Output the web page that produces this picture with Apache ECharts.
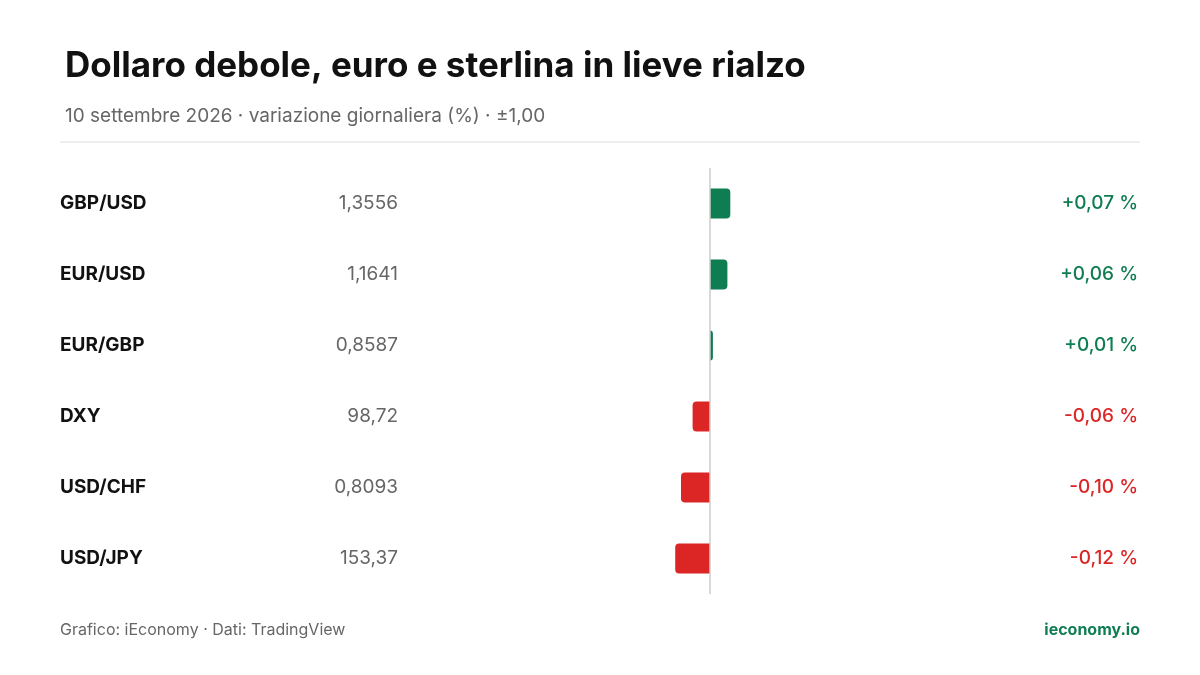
<!DOCTYPE html>
<html><head><meta charset="utf-8">
<script src="https://cdn.jsdelivr.net/npm/echarts@6/dist/echarts.min.js"></script>
<style>html,body{margin:0;background:#fff}#c{width:1200px;height:675px}</style>
</head><body><div id="c"></div>
<script>
const pairs = ["GBP/USD","EUR/USD","EUR/GBP","DXY","USD/CHF","USD/JPY"];
const prices = ["1,3556","1,1641","0,8587","98,72","0,8093","153,37"];
const changes = [0.07,0.06,0.01,-0.06,-0.10,-0.12];
const GREEN="#0f7d52", RED="#dc2626";
const fmt = v => (v>=0?"+":"-")+Math.abs(v).toFixed(2).replace(".",",")+" %";
const chart = echarts.init(document.getElementById('c'));
const F = "Inter";
chart.setOption({
  animation:false,
  textStyle:{fontFamily:F},
  title:[{text:"Dollaro debole, euro e sterlina in lieve rialzo",left:60,top:44,textStyle:{fontFamily:F,fontSize:35,fontWeight:"bold",color:"#111"}},
         {text:"10 settembre 2026 · variazione giornaliera (%) · ±1,00",left:60,top:102,textStyle:{fontFamily:F,fontSize:19,fontWeight:"normal",color:"#666"}}],
  graphic:[
    {type:"line",shape:{x1:60,y1:142,x2:1140,y2:142},style:{stroke:"#ddd",lineWidth:1}},
    {type:"text",left:60,top:622,style:{text:"Grafico: iEconomy · Dati: TradingView",font:"16px Inter",fill:"#666"}},
    {type:"text",right:60,top:622,style:{text:"ieconomy.io",font:"bold 16px Inter",fill:GREEN}}
  ],
  grid:{left:420,right:200,top:168,bottom:81},
  xAxis:{type:"value",min:-1,max:1,show:false},
  yAxis:[
    {type:"category",data:pairs,inverse:true,position:"left",axisLine:{show:false},axisTick:{show:false},
     axisLabel:{align:"left",margin:360,fontSize:19,fontWeight:"bold",color:"#111",fontFamily:F}},
    {type:"category",data:prices,inverse:true,position:"left",axisLine:{show:false},axisTick:{show:false},
     axisLabel:{align:"right",margin:22,fontSize:19,color:"#666",fontFamily:F}},
    {type:"category",data:changes.map(fmt),inverse:true,position:"right",axisLine:{show:false},axisTick:{show:false},
     axisLabel:{align:"right",margin:138,fontSize:19,fontWeight:"500",fontFamily:F,
       color:(v,i)=>changes[i]>=0?GREEN:RED}}
  ],
  series:[{type:"bar",barWidth:30,
    data:changes.map(v=>({value:v,itemStyle:{color:v>=0?GREEN:RED,borderRadius:v>=0?[0,4,4,0]:[4,0,0,4]}})),
    markLine:{silent:true,symbol:"none",label:{show:false},lineStyle:{color:"#ccc",type:"solid",width:1.5},data:[{xAxis:0}]}
  }]
});
</script></body></html>
